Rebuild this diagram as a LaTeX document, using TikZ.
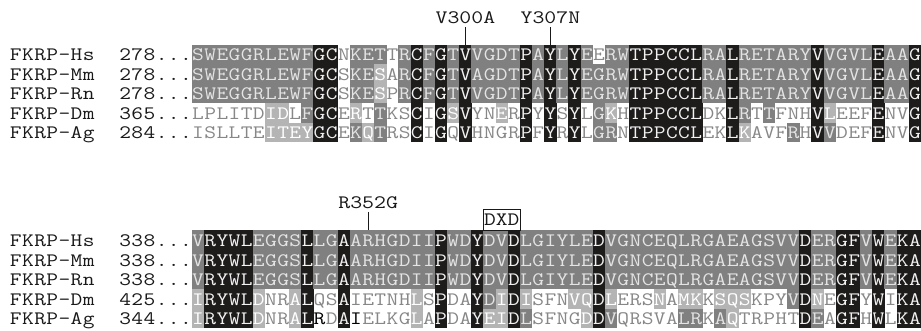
\documentclass[tikz,border=0pt]{standalone}
\usepackage{graphicx}
\definecolor{cblack}{RGB}{30,27,27}
\definecolor{cdark}{RGB}{128,128,128}
\definecolor{clight}{RGB}{180,180,180}
\definecolor{tgray}{RGB}{135,135,135}
\definecolor{tondark}{RGB}{228,228,228}
\definecolor{tonblack}{RGB}{242,242,242}
\definecolor{tlabel}{RGB}{25,25,25}
\newcommand\seqfnt{\fontsize{19}{19}\selectfont\ttfamily}
\makeatletter
\newcount\sq@i
\def\seqrow#1#2#3#4{\sq@i=#1\relax\def\sq@y{#2}\sq@loop#3\@nil#4\@nil}
\def\sq@loop#1#2\@nil#3#4\@nil{%
  \sq@cell{#1}{#3}%
  \advance\sq@i by 1\relax
  \ifx\relax#2\relax\else\sq@loop#2\@nil#4\@nil\fi}
\def\sq@cell#1#2{%
  \def\sq@bg{}\def\sq@fg{tlabel}%
  \if#2K\def\sq@bg{cblack}\def\sq@fg{tonblack}\fi
  \if#2D\def\sq@bg{cdark}\def\sq@fg{tondark}\fi
  \if#2L\def\sq@bg{clight}\def\sq@fg{white}\fi
  \if#2W\def\sq@fg{tgray}\fi
  \if#2B\def\sq@fg{black}\fi
  \ifx\sq@bg\@empty\else
    \fill[fill=\sq@bg] ({192+12.15*\the\sq@i-0.2},\sq@y) rectangle ++(12.55,19.5);
  \fi
  \node[seqchar,text=\sq@fg] at ({192+12.15*(\the\sq@i+0.5)},\sq@y+16) {\scalebox{1.2}[1]{#1}};}
\makeatother
\begin{document}
\begin{tikzpicture}[x=1pt,y=-1pt,
  seqchar/.style={anchor=base,inner sep=0pt,font=\seqfnt},
  annot/.style={anchor=base,inner sep=0pt,font=\seqfnt,text=tlabel},
  tick/.style={draw=tlabel,line width=0.9pt,shorten <=3pt},
  motifbox/.style={draw=tlabel,line width=0.9pt,inner sep=0pt,minimum width=36.45pt,minimum height=21.5pt,font=\seqfnt,text=tlabel}]
\useasboundingbox (0,0) rectangle (921,331);
\fill[white] (0,0) rectangle (921,331);
% ---------- top block ----------
\seqrow{-15}{45}{FKRP-Hs}{NNNNNNN}\seqrow{-6}{45}{278...}{NNNNNN}
\seqrow{0}{45}{SWEGGRLEWFGCNKETTRCFGTVVGDTPAYLYEERWTPPCCLRALRETARYVVGVLEAAG}{DDDDDDDDDDKKWDDDWDKDKDKDDDDKDKDKDWDDKKKKKKDDKDDDDDDKDDDDKDDK}
\seqrow{-15}{64.5}{FKRP-Mm}{NNNNNNN}\seqrow{-6}{64.5}{278...}{NNNNNN}
\seqrow{0}{64.5}{SWEGGRLEWFGCSKESARCFGTVAGDTPAYLYEGRWTPPCCLRALRETARYVVGVLEAAG}{DDDDDDDDDDKKWDDLWDKDKDKDDDDKDKDKDDDDKKKKKKDDKDDDDDDKDDDDKDDK}
\seqrow{-15}{84}{FKRP-Rn}{NNNNNNN}\seqrow{-6}{84}{278...}{NNNNNN}
\seqrow{0}{84}{SWEGGRLEWFGCSKESPRCFGTVVGDTPAYLYEGRWTPPCCLRALRETARYVVGVLEAAG}{DDDDDDDDDDKKWDDLWDKDKDKDDDDKDKDKDDDDKKKKKKDDKDDDDDDKDDDDKDDK}
\seqrow{-15}{103.5}{FKRP-Dm}{NNNNNNN}\seqrow{-6}{103.5}{365...}{NNNNNN}
\seqrow{0}{103.5}{LPLITDIDLFGCERTTKSCIGSVYNERPYYSYLGKHTPPCCLDKLRTTFNHVLEEFENVG}{WWWWWWLLWDKKWLWDWWKWKLKWWLWKWKWKWDLWKKKKKKWWKDWDWWWKLWWWKWWK}
\seqrow{-15}{123}{FKRP-Ag}{NNNNNNN}\seqrow{-6}{123}{284...}{NNNNNN}
\seqrow{0}{123}{ISLLTEITEYGCEKQTRSCIGQVHNGRPFYRYLGRNTPPCCLEKLKAVFRHVVDEFENVG}{WWWWWWLLLLKKWDLDWWKWKWKWWWWKWKWKWDDWKKKKKKWWKLWWWDWKDWWWKWWK}
% ---------- bottom block ----------
\seqrow{-15}{230.5}{FKRP-Hs}{NNNNNNN}\seqrow{-6}{230.5}{338...}{NNNNNN}
\seqrow{0}{230.5}{VRYWLEGGSLLGAARHGDIIPWDYDVDLGIYLEDVGNCEQLRGAEAGSVVDERGFVWEKA}{DKKKKDDDDKDDKDDDDDDDKDDKDDKDDDDDDKDDDDDDDDDDDDDDDDKDDKKDKDKK}
\seqrow{-15}{250}{FKRP-Mm}{NNNNNNN}\seqrow{-6}{250}{338...}{NNNNNN}
\seqrow{0}{250}{VRYWLEGGSLLGAARHGDIIPWDYDVDLGIYLEDVGNCEQLRGAEAGSVVDERGFVWEKA}{DKKKKDDDDKDDKDDDDDDDKDDKDDKDDDDDDKDDDDDDDDDDDDDDDDKDDKKDKDKK}
\seqrow{-15}{269.5}{FKRP-Rn}{NNNNNNN}\seqrow{-6}{269.5}{338...}{NNNNNN}
\seqrow{0}{269.5}{VRYWLEGGSLLGAARHGDIIPWDYDVDLGIYLEDVGNCEQLRGAEAGSVVDERGFVWEKA}{DKKKKDDDDKDDKDDDDDDDKDDKDDKDDDDDDKDDDDDDDDDDDDDDDDKDDKKDKDKK}
\seqrow{-15}{289}{FKRP-Dm}{NNNNNNN}\seqrow{-6}{289}{425...}{NNNNNN}
\seqrow{0}{289}{IRYWLDNRALQSAIETNHLSPDAYDIDISFNVQDLERSNAMKKSQSKPYVDNEGFYWIKA}{LKKKKLWWLKWWKWWWWWLWKWWKDLKLWWWLLKLWWWLWLLWLLLWWWDKLWKKWKWKK}
\seqrow{-15}{308.5}{FKRP-Ag}{NNNNNNN}\seqrow{-6}{308.5}{344...}{NNNNNN}
\seqrow{0}{308.5}{IRYWLDNRALRDAIELKGLAPDAYEIDLSFNGDDVQRSVALRKAQTRPHTDEAGFHWLKA}{LKKKKLWWLKBWKBWWWWLWKWWKLLKDWWWWLKDWWWWWDDWDLWWWWWKDWKKWKWKK}
% ---------- annotations ----------
\node[annot] (v300) at (465.4,24) {\scalebox{1.218}[1]{V300A}};
\coordinate (v300e) at (465.4,45);
\draw[tick] (v300.south) -- (v300e);
\node[annot] (y307) at (550.4,24) {\scalebox{1.218}[1]{Y307N}};
\coordinate (y307e) at (550.4,45);
\draw[tick] (y307.south) -- (y307e);
\node[annot] (r352) at (368.2,208.5) {\scalebox{1.218}[1]{R352G}};
\coordinate (r352e) at (368.2,230.5);
\draw[tick] (r352.south) -- (r352e);
\node[motifbox] (dxd) at (501.8,219.75) {\scalebox{1.2}[1]{DXD}};
\end{tikzpicture}
\end{document}
